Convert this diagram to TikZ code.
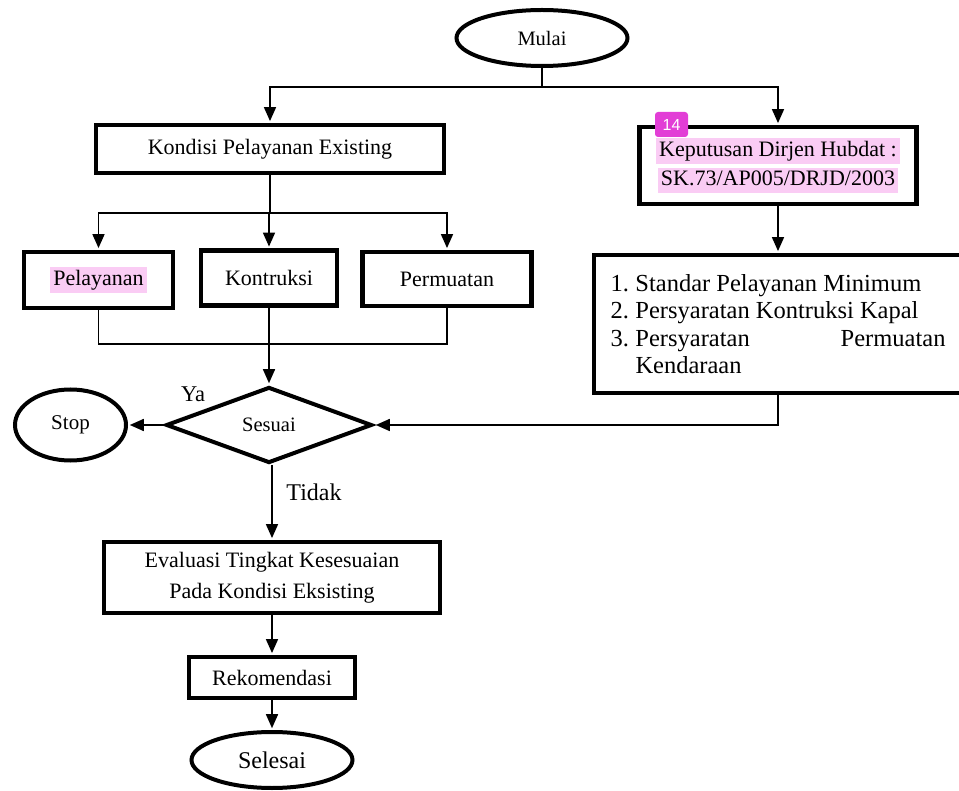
\documentclass[tikz,border=0pt]{standalone}
\usepackage{fontspec}
\setmainfont{Liberation Serif}
\newfontfamily\serifenlos{Liberation Sans}
\usetikzlibrary{shapes.geometric,arrows.meta}

\definecolor{markfarbe}{RGB}{250,204,244}
\definecolor{kommentar}{RGB}{226,62,214}
\setlength{\fboxsep}{3pt}
\newcommand{\markiert}[1]{\colorbox{markfarbe}{\vphantom{Jy}#1}}

\begin{document}
\begin{tikzpicture}[x=1pt,y=-1pt,
		every node/.style={font=\fontsize{22}{29}\selectfont},
		kasten/.style={draw, rectangle, line width=4.2pt, align=center, inner sep=0pt},
		oval/.style={draw, ellipse, line width=4pt, inner sep=0pt},
		raute/.style={draw, diamond, line width=4pt, inner sep=0pt},
		linie/.style={line width=1.6pt},
		pfeil/.style={line width=1.6pt, shorten >=1.8pt, -{Triangle[length=14pt,width=12pt]}}]
	\useasboundingbox (0,0) rectangle (959,791);

	% zeichne Start
	\node[oval, minimum width=171pt, minimum height=56pt, font=\fontsize{20.5}{24}\selectfont] (mulai) at (542,38) {Mulai};

	% zeichne linken Zweig
	\node[kasten, minimum width=348pt, minimum height=48pt] (kondisi) at (270,149) {Kondisi Pelayanan Existing};
	\node[kasten, minimum width=149pt, minimum height=56pt] (pelayanan) at (98.5,280) {\markiert{Pelayanan}};
	\node[kasten, minimum width=136pt, minimum height=55pt] (kontruksi) at (269,278) {Kontruksi};
	\node[kasten, minimum width=169pt, minimum height=54pt] (permuatan) at (447,279) {Permuatan};

	% zeichne rechten Zweig
	\node[kasten, minimum width=277pt, minimum height=77pt] (keputusan) at (778,165.5)
		{\markiert{Keputusan Dirjen Hubdat :}\\\markiert{SK.73/AP005/DRJD/2003}};
	\node[fill=kommentar, rounded corners=3pt, minimum width=33pt, minimum height=25pt, inner sep=0pt,
		text=white, font=\serifenlos\fontsize{16}{16}\selectfont] (nummer) at (671.5,124.5) {14};
	\node[kasten, text width=335pt, inner xsep=16.5pt, minimum height=138pt, align=justify,
		font=\fontsize{24.5}{27.5}\selectfont] (standar) at (778,324)
		{\hyphenpenalty=10000 \tolerance=10000
		\hangindent=25pt\hangafter=1\noindent\makebox[25pt][l]{1.}Standar Pelayanan Minimum\par
		\hangindent=25pt\hangafter=1\noindent\makebox[25pt][l]{2.}Persyaratan Kontruksi Kapal\par
		\hangindent=25pt\hangafter=1\noindent\makebox[25pt][l]{3.}Persyaratan Permuatan Kendaraan\par};

	% zeichne Entscheidung
	\node[raute, minimum width=206pt, minimum height=76pt, font=\fontsize{20.5}{24}\selectfont] (sesuai) at (269,425) {Sesuai};
	\node[oval, minimum width=111pt, minimum height=71pt, font=\fontsize{21}{24}\selectfont] (stop) at (70.5,425) {Stop};
	\node[font=\fontsize{22.5}{26}\selectfont] (ya) at (193,394) {Ya};
	\node[font=\fontsize{24}{28}\selectfont] (tidak) at (314,492) {Tidak};

	% zeichne Ende
	\node[kasten, minimum width=336pt, minimum height=71pt, font=\fontsize{22}{31}\selectfont] (evaluasi) at (272,577.5)
		{Evaluasi Tingkat Kesesuaian\\Pada Kondisi Eksisting};
	\node[kasten, minimum width=166pt, minimum height=41pt] (rekomendasi) at (272,677.5) {Rekomendasi};
	\node[oval, minimum width=161pt, minimum height=56pt, font=\fontsize{24}{28}\selectfont] (selesai) at (272,760) {Selesai};

	% zeichne Verbindungen
	\draw[linie] (mulai.south) -- ++(0,19) coordinate (knoten1);
	\draw[pfeil] (knoten1) -| (kondisi.north);
	\draw[pfeil] (knoten1) -| (keputusan.north);
	\draw[linie] (kondisi.south) -- ++(0,38) coordinate (knoten2);
	\draw[pfeil] (knoten2) -| (pelayanan.north);
	\draw[pfeil] (knoten2) -| (kontruksi.north);
	\draw[pfeil] (knoten2) -| (permuatan.north);
	\draw[linie] (pelayanan.south) -- ++(0,34) coordinate (knoten3) -| (permuatan.south);
	\draw[pfeil] (kontruksi.south) -- (sesuai.north);
	\draw[pfeil] (keputusan.south) -- (standar.north);
	\draw[pfeil] (standar.south) |- (sesuai.east);
	\draw[pfeil] (sesuai.west) -- (stop.east);
	\draw[pfeil] (sesuai.south -| evaluasi.north) -- (evaluasi.north);
	\draw[pfeil] (evaluasi.south) -- (rekomendasi.north);
	\draw[pfeil] (rekomendasi.south) -- (selesai.north);
\end{tikzpicture}
\end{document}
